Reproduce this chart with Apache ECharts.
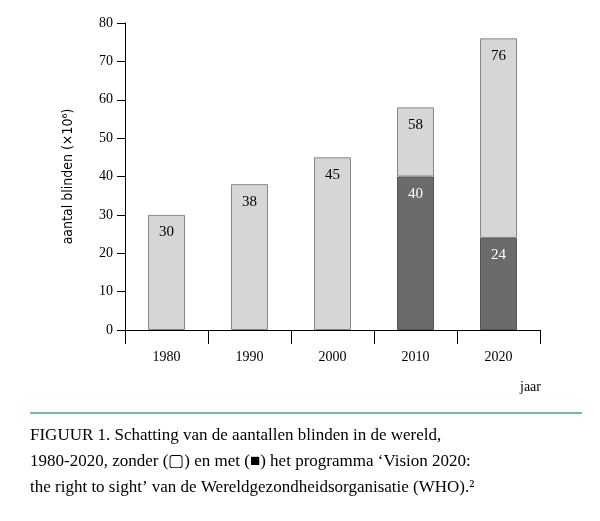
<!DOCTYPE html>
<html lang="nl">
<head>
<meta charset="UTF-8">
<title>Figuur 1</title>
<script src="https://cdn.jsdelivr.net/npm/echarts@6/dist/echarts.min.js"></script>
<style>
	html, body { margin: 0; padding: 0; background: #fff; }
	#main { width: 600px; height: 521px; }
</style>
</head>
<body>
<div id="main"></div>
<script>
	// data
	let years = ["1980", "1990", "2000", "2010", "2020"];
	let withProgram = [null, null, null, 40, 24];      // dark part
	let totalWithout = [30, 38, 45, 58, 76];           // height of light bar
	let yTicks = [0, 10, 20, 30, 40, 50, 60, 70, 80];

	let lightPart = totalWithout.map((t, i) => t - (withProgram[i] || 0));
	let serif = "Liberation Serif";
	let capFont = "17px 'Liberation Serif'";

	let option = {
		animation: false,
		textStyle: { fontFamily: serif },
		grid: { left: 125, right: 60, top: 23, bottom: 191 },
		xAxis: {
			type: "category",
			data: years,
			axisLine: { lineStyle: { color: "#000", width: 1 } },
			axisTick: { show: true, length: 14, lineStyle: { color: "#000" } },
			axisLabel: { color: "#000", fontSize: 14, margin: 20, fontFamily: serif },
			name: "jaar",
			nameLocation: "end",
			nameGap: 0,
			nameTextStyle: { color: "#000", fontSize: 14, fontFamily: serif, padding: [50, 0, 0, -20], verticalAlign: "top" }
		},
		yAxis: {
			type: "value",
			min: yTicks[0],
			max: yTicks[yTicks.length - 1],
			interval: 10,
			splitLine: { show: false },
			axisLine: { show: true, lineStyle: { color: "#000" } },
			axisTick: { show: true, length: 8, lineStyle: { color: "#000" } },
			axisLabel: { color: "#000", fontSize: 14, margin: 12, fontFamily: serif },
			name: "aantal blinden (×10⁶)",
			nameLocation: "middle",
			nameGap: 50,
			nameTextStyle: { color: "#000", fontSize: 14, fontFamily: "DejaVu Sans Condensed" }
		},
		series: [
			{
				type: "bar",
				stack: "s",
				data: withProgram,
				barWidth: 37,
				itemStyle: { color: "#6b6b6b", borderColor: "#555", borderWidth: 1 },
				label: { show: true, position: "insideTop", distance: 10, color: "#fff", fontSize: 15, fontFamily: serif }
			},
			{
				type: "bar",
				stack: "s",
				data: lightPart,
				barWidth: 37,
				itemStyle: { color: "#d6d6d6", borderColor: "#888", borderWidth: 1 },
				label: {
					show: true, position: "insideTop", distance: 10, color: "#000", fontSize: 15, fontFamily: serif,
					formatter: p => totalWithout[p.dataIndex]
				}
			}
		],
		graphic: [
			{ type: "line", shape: { x1: 30, y1: 413, x2: 582, y2: 413 }, style: { stroke: "#3fa58c", lineWidth: 1.5 } },
			{ type: "text", left: 30, top: 427, style: { text: "FIGUUR 1. Schatting van de aantallen blinden in de wereld,", font: capFont, fill: "#000" } },
			{ type: "text", left: 30, top: 453, style: { text: "1980-2020, zonder (\u25A2) en met (\u25A0) het programma ‘Vision 2020:", font: capFont, fill: "#000" } },
			{ type: "text", left: 30, top: 479, style: { text: "the right to sight’ van de Wereldgezondheidsorganisatie (WHO).²", font: capFont, fill: "#000" } }
		]
	};

	let chart = echarts.init(document.getElementById("main"));
	chart.setOption(option);
</script>
</body>
</html>
